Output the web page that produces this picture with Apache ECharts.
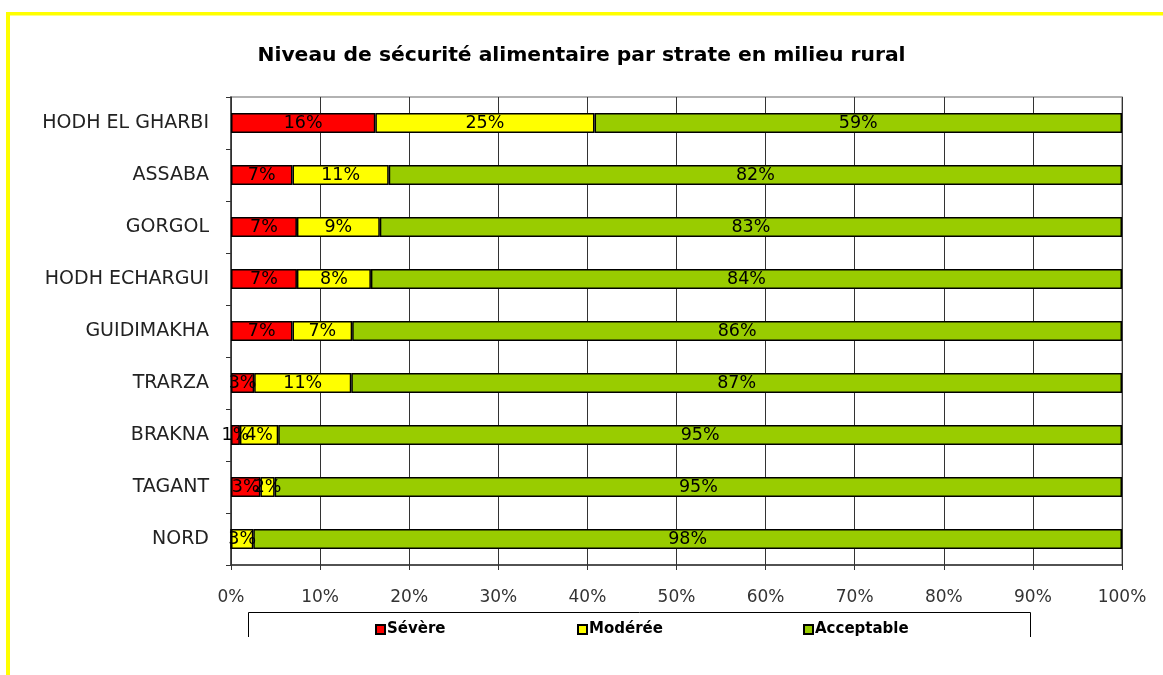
<!DOCTYPE html>
<html><head><meta charset="utf-8">
<script src="https://cdn.jsdelivr.net/npm/echarts@6/dist/echarts.min.js"></script>
<style>html,body{margin:0;padding:0;background:#fff}#c{width:1163px;height:675px}</style>
</head><body><div id="c"></div>
<script>
const categories = ['HODH EL GHARBI','ASSABA','GORGOL','HODH ECHARGUI','GUIDIMAKHA','TRARZA','BRAKNA','TAGANT','NORD'];
const severe     = [16.2, 6.9, 7.4, 7.4, 6.9, 2.6, 1.0, 3.3, 0];
const moderate   = [24.6, 10.8, 9.3, 8.3, 6.7, 10.9, 4.3, 1.6, 2.5];
const acceptable = [59.2, 82.3, 83.3, 84.3, 86.4, 86.5, 94.7, 95.1, 97.5];
const xTicks = ['0%','10%','20%','30%','40%','50%','60%','70%','80%','90%','100%'];
const seriesNames = ['Sévère','Modérée','Acceptable'];
const colors = ['#FF0000','#FFFF00','#99CC00'];

const FONT = '"DejaVu Sans", "Liberation Sans", Arial, sans-serif';
const chart = echarts.init(document.getElementById('c'), null, {renderer:'canvas'});
const mk = (name, data, color) => ({
  name, type:'bar', stack:'total', data, barWidth:20,
  itemStyle:{color, borderColor:'#000', borderWidth:1.5},
  label:{show:true, position:'inside', fontFamily:FONT, fontSize:17.5, color:'#000',
    formatter:p => p.value > 0 ? Math.round(p.value) + '%' : ''},
  emphasis:{disabled:true}
});
const legendItem = (name, left) => ({
  data:[name], left, top:622, padding:0, itemWidth:9, itemHeight:9, itemGap:0,
  icon:'rect', textStyle:{fontFamily:FONT, fontSize:15, fontWeight:'bold', color:'#000', padding:[0,0,0,-3]},
  selectedMode:false
});
chart.setOption({
  backgroundColor:'#fff',
  animation:false,
  title:{text:'Niveau de sécurité alimentaire par strate en milieu rural', left:'center', top:41,
    textStyle:{fontFamily:FONT, fontSize:20.3, fontWeight:'bold', color:'#000'}},
  grid:{left:231, right:41, top:97, bottom:110, show:true, borderColor:'#999', borderWidth:1.5, backgroundColor:'transparent'},
  xAxis:{type:'value', min:0, max:100, interval:10,
    axisLine:{show:true, lineStyle:{color:'#333', width:1.5}},
    axisTick:{show:true, length:5, lineStyle:{color:'#333'}},
    axisLabel:{fontFamily:FONT, fontSize:17, color:'#333', margin:24, formatter:(v)=>xTicks[Math.round(v/10)]},
    splitLine:{show:true, lineStyle:{color:'#333', width:1}}},
  yAxis:{type:'category', data:categories, inverse:true,
    axisLine:{show:true, lineStyle:{color:'#333', width:1.5}},
    axisTick:{show:true, length:5, lineStyle:{color:'#333'}},
    axisLabel:{fontFamily:FONT, fontSize:19, color:'#222', margin:22},
    splitLine:{show:false}},
  legend:[legendItem(seriesNames[0],375), legendItem(seriesNames[1],577), legendItem(seriesNames[2],803)],
  series:[mk(seriesNames[0], severe, colors[0]), mk(seriesNames[1], moderate, colors[1]), mk(seriesNames[2], acceptable, colors[2])],
  graphic:[
    {type:'rect', shape:{x:7, y:12, width:1156, height:3.5}, style:{fill:'#FFFF00'}, silent:true},
    {type:'rect', shape:{x:6, y:12, width:4, height:663}, style:{fill:'#FFFF00'}, silent:true},
    {type:'polyline', shape:{points:[[248.5,637],[248.5,612.5],[1030.5,612.5],[1030.5,637]]}, style:{stroke:'#000', lineWidth:1, fill:null}, silent:true}
  ]
});
</script></body></html>
